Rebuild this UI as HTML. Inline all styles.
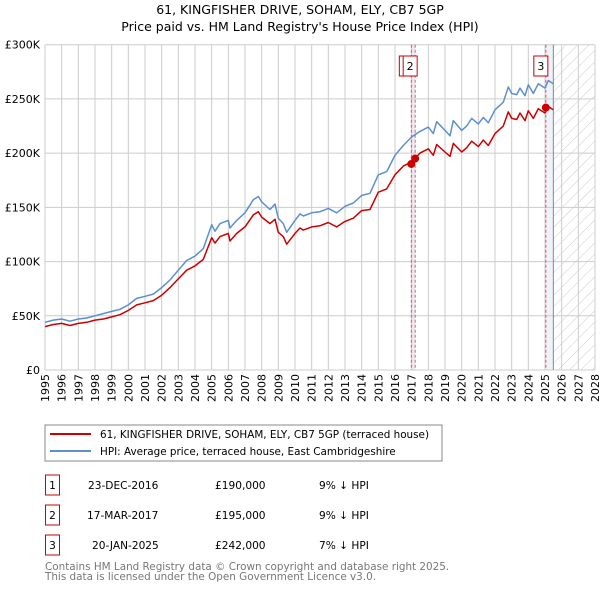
<!DOCTYPE html>
<html><head><meta charset="utf-8"><style>
body{margin:0;background:#fff;font-family:"Liberation Sans","DejaVu Sans",sans-serif;}
svg text{font-family:"DejaVu Sans","Liberation Sans",sans-serif;}
</style></head><body>
<svg id="c" width="600" height="590" viewBox="0 0 600 590">
<defs><pattern id="hatch" width="8" height="8" patternUnits="userSpaceOnUse" patternTransform="rotate(45)"><line x1="0" y1="0" x2="0" y2="8" stroke="#ccc" stroke-width="1"/></pattern></defs>
<text x="300" y="14" text-anchor="middle" font-size="12.5">61, KINGFISHER DRIVE, SOHAM, ELY, CB7 5GP</text>
<text x="300" y="31" text-anchor="middle" font-size="12.5">Price paid vs. HM Land Registry's House Price Index (HPI)</text>
<g id="plot"></g>
<rect x="45" y="425" width="397" height="36" fill="#fff" stroke="#888"/>
<line x1="50" y1="434" x2="91" y2="434" stroke="#cc0000" stroke-width="2"/>
<text x="100" y="438" font-size="10.4">61, KINGFISHER DRIVE, SOHAM, ELY, CB7 5GP (terraced house)</text>
<line x1="50" y1="451" x2="91" y2="451" stroke="#5b8fd0" stroke-width="2"/>
<text x="100" y="455" font-size="10.4">HPI: Average price, terraced house, East Cambridgeshire</text>
<g font-size="10.6">
<rect x="45.5" y="475" width="14" height="20" fill="none" stroke="#cc0000"/><text x="52.5" y="489" text-anchor="middle">1</text>
<text x="88" y="489">23-DEC-2016</text><text x="215" y="489">£190,000</text><text x="319" y="489">9% ↓ HPI</text>
<rect x="45.5" y="505" width="14" height="20" fill="none" stroke="#cc0000"/><text x="52.5" y="519" text-anchor="middle">2</text>
<text x="87" y="519">17-MAR-2017</text><text x="215" y="519">£195,000</text><text x="319" y="519">9% ↓ HPI</text>
<rect x="45.5" y="535" width="14" height="20" fill="none" stroke="#cc0000"/><text x="52.5" y="549" text-anchor="middle">3</text>
<text x="92" y="549">20-JAN-2025</text><text x="215" y="549">£242,000</text><text x="319" y="549">7% ↓ HPI</text>
</g>
<text x="45" y="570" font-size="10.4" fill="#777">Contains HM Land Registry data © Crown copyright and database right 2025.</text>
<text x="45" y="580" font-size="10.4" fill="#777">This data is licensed under the Open Government Licence v3.0.</text>
</svg>
<script>
const hpiYears=[1995,1995.5,1996,1996.5,1997,1997.5,1998,1998.5,1999,1999.5,2000,2000.5,2001,2001.5,2002,2002.5,2003,2003.5,2004,2004.5,2005,2005.2,2005.5,2006,2006.1,2006.5,2007,2007.5,2007.8,2008,2008.5,2008.8,2009,2009.3,2009.5,2010,2010.3,2010.5,2011,2011.5,2012,2012.5,2013,2013.5,2014,2014.5,2015,2015.5,2016,2016.5,2017,2017.5,2018,2018.3,2018.5,2019,2019.3,2019.5,2020,2020.3,2020.6,2021,2021.3,2021.6,2022,2022.5,2022.8,2023,2023.3,2023.5,2023.8,2024,2024.3,2024.6,2025,2025.2,2025.5];
const hpiValues=[44,46,47,45,47,48,50,52,54,56,60,66,68,70,76,83,92,101,105,112,134,128,135,138,131,138,145,157,160,155,148,153,140,135,127,138,144,142,145,146,149,145,151,154,161,163,180,183,198,207,215,220,224,218,229,221,216,230,221,225,232,227,233,228,240,247,261,255,254,260,253,263,255,264,260,267,264];
const propValues=[40,42,43,41,43,44,46,47,49,51,55,60,62,64,69,76,84,92,96,102,122,117,123,126,119,126,132,143,146,141,135,139,127,123,116,126,131,129,132,133,136,132,137,140,147,148,164,167,180,188,192,200,204,198,208,201,197,209,201,205,211,206,212,207,218,225,238,232,231,237,230,239,232,241,237,243,240];
const saleYears=[2016.98,2017.21,2025.05];
const salePrices=[190,195,242];
const saleLabels=["1","2","3"];
const yTicks=[0,50,100,150,200,250,300];
const yTickLabels=["£0","£50K","£100K","£150K","£200K","£250K","£300K"];
const xStart=1995,xEnd=2028,dataEnd=2025.5;
const X0=45,X1=595,Y0=370,Y1=44.7;
const x=v=>X0+(v-xStart)/(xEnd-xStart)*(X1-X0);
const y=v=>Y0-v/300*(Y0-Y1);
const NS="http://www.w3.org/2000/svg";
const g=document.getElementById('plot');
function mk(t,a){const e=document.createElementNS(NS,t);for(const k in a)e.setAttribute(k,a[k]);g.appendChild(e);return e;}
let e;
e=mk('rect',{x:x(dataEnd),y:Y1,width:X1-x(dataEnd),height:Y0-Y1,fill:'url(#hatch)'});


e=mk('rect',{x:x(saleYears[0]),y:Y1,width:x(saleYears[1])-x(saleYears[0]),height:Y0-Y1,fill:'#e8eef8'});


e=mk('rect',{x:x(saleYears[2]),y:Y1,width:x(dataEnd)-x(saleYears[2]),height:Y0-Y1,fill:'#eef2fa'});


for(let yr=xStart;yr<=xEnd;yr++){
 e=mk('line',{x1:x(yr),x2:x(yr),y1:Y1,y2:Y0,stroke:'#ccc','stroke-width':1});
 
 
 e=mk('text',{x:0,y:0,'font-size':11,'text-anchor':'end',transform:`translate(${x(yr)+4},${Y0+4}) rotate(-90)`});
 e.textContent=yr;
 
 
}
yTicks.forEach((t,i)=>{
 e=mk('line',{x1:X0,x2:X1,y1:y(t),y2:y(t),stroke:'#ccc','stroke-width':1});
 
 
 e=mk('text',{x:40,y:y(t)+4,'font-size':11,'text-anchor':'end'});
 e.textContent=yTickLabels[i];
 
 
});
e=mk('line',{x1:x(dataEnd),x2:x(dataEnd),y1:Y1,y2:Y0,stroke:'#888','stroke-width':1});


saleYears.forEach((s,i)=>{
 e=mk('line',{x1:x(s),x2:x(s),y1:Y1,y2:Y0,stroke:'#e55','stroke-width':1,'stroke-dasharray':'3,2'});
 
 
});
const pts=a=>hpiYears.map((yr,i)=>x(yr).toFixed(1)+','+y(a[i]).toFixed(1)).join(' ');
e=mk('polyline',{points:pts(hpiValues),fill:'none',stroke:'#5b8fd0','stroke-width':1.5,'stroke-linejoin':'round'});


e=mk('polyline',{points:pts(propValues),fill:'none',stroke:'#cc0000','stroke-width':1.5,'stroke-linejoin':'round'});


saleYears.forEach((s,i)=>{
 e=mk('circle',{cx:x(s),cy:y(salePrices[i]),r:4,fill:'#cc0000'});
 
 
});
saleYears.forEach((s,i)=>{
 const cx=x(s)-5;
 e=mk('rect',{x:cx-7,y:56,width:14,height:20,fill:'#fff',stroke:'#cc0000','stroke-width':1});
 
 
 e=mk('text',{x:cx,y:70,'font-size':11,'text-anchor':'middle'});
 e.textContent=saleLabels[i];
 
 
});
</script>
</body></html>
